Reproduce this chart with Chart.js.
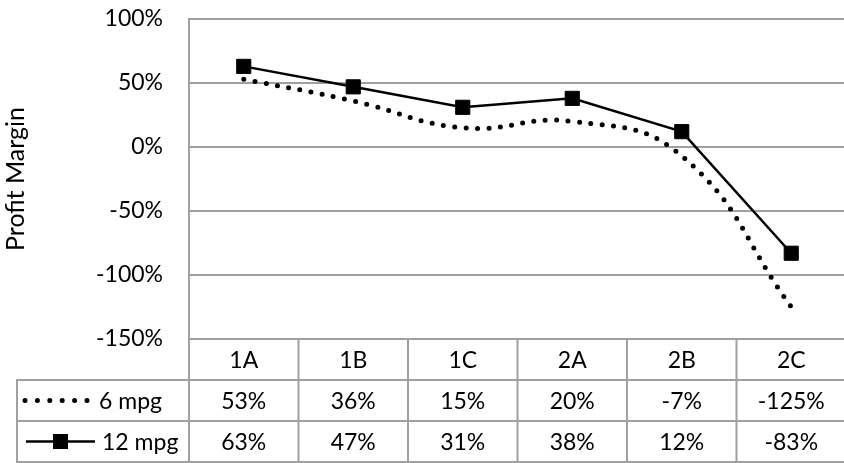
<!DOCTYPE html>
<html>
<head>
<meta charset="utf-8">
<script src="https://cdn.jsdelivr.net/npm/chart.js@4/dist/chart.umd.min.js"></script>
<style>
  html, body { margin: 0; padding: 0; overflow: hidden; background: #fff; }
  canvas { display: block; }
</style>
</head>
<body>
<canvas id="c" width="857" height="463"></canvas>
<script>
// Profit margin by configuration, at two fuel-economy levels
const categories = ['1A', '1B', '1C', '2A', '2B', '2C'];
const mpg6 = [53, 36, 15, 20, -7, -125];
const mpg12 = [63, 47, 31, 38, 12, -83];
const seriesNames = ['6 mpg', '12 mpg'];
const yTicks = [100, 50, 0, -50, -100, -150];
const yTitle = 'Profit Margin';

const FONT = 'Lato, "Open Sans", sans-serif';
const FSIZE = 23;
const TITLE_SIZE = 25;
const GRID = '#a0a0a0';
const INK = '#000';

const DOT_DASH = [0, 11.4];
const DOT_WIDTH = 5;

// Data table under the plot: category row plus one row per series with its legend key
const dataTable = {
  id: 'dataTable',
  afterDraw(chart) {
    const { ctx, chartArea: a, scales: { x } } = chart;
    const rowH = 41;
    const half = (a.right - a.left) / categories.length / 2;
    const r0 = a.bottom, r1 = r0 + rowH, r2 = r1 + rowH, r3 = r2 + rowH;
    const keyLeft = 17;

    ctx.save();
    ctx.strokeStyle = GRID;
    ctx.lineWidth = 2;
    ctx.beginPath();
    ctx.moveTo(a.left, r0); ctx.lineTo(a.left, r3);
    categories.forEach((c, i) => {
      const xr = x.getPixelForValue(i) + half;
      ctx.moveTo(xr, r0); ctx.lineTo(xr, r3);
    });
    [r1, r2, r3].forEach(y => { ctx.moveTo(keyLeft, y); ctx.lineTo(a.right + 2, y); });
    ctx.moveTo(keyLeft, r1 - 1); ctx.lineTo(keyLeft, r3 + 1);
    ctx.stroke();

    ctx.fillStyle = INK;
    ctx.font = FSIZE + 'px ' + FONT;
    ctx.textAlign = 'center';
    ctx.textBaseline = 'middle';
    const rows = [
      { y: (r0 + r1) / 2, vals: categories },
      { y: (r1 + r2) / 2, vals: mpg6.map(v => v + '%') },
      { y: (r2 + r3) / 2, vals: mpg12.map(v => v + '%') }
    ];
    rows.forEach(r => {
      r.vals.forEach((t, i) => ctx.fillText(t, x.getPixelForValue(i), r.y + 1.5));
    });

    // legend keys
    const y6 = rows[1].y, y12 = rows[2].y;
    ctx.strokeStyle = INK;
    ctx.lineWidth = DOT_WIDTH;
    ctx.lineCap = 'round';
    ctx.setLineDash([0, 12.4]);
    ctx.beginPath(); ctx.moveTo(25, y6); ctx.lineTo(88, y6); ctx.stroke();
    ctx.setLineDash([]);
    ctx.lineCap = 'butt';
    ctx.lineWidth = 2.5;
    ctx.beginPath(); ctx.moveTo(26, y12); ctx.lineTo(95, y12); ctx.stroke();
    ctx.fillRect(53, y12 - 7.5, 15, 15);

    ctx.textAlign = 'left';
    ctx.fillText(seriesNames[0], 99, y6 + 1.5);
    ctx.fillText(seriesNames[1], 102, y12 + 1.5);
    ctx.restore();
  }
};

new Chart(document.getElementById('c'), {
  type: 'line',
  data: {
    labels: categories,
    datasets: [
      {
        label: seriesNames[0],
        data: mpg6,
        borderColor: INK,
        borderWidth: DOT_WIDTH,
        borderDash: DOT_DASH,
        borderCapStyle: 'round',
        tension: 0.45,
        pointRadius: 0,
        fill: false
      },
      {
        label: seriesNames[1],
        data: mpg12,
        borderColor: INK,
        borderWidth: 2.5,
        tension: 0,
        pointStyle: 'rect',
        pointRadius: 10,
        pointBackgroundColor: INK,
        pointBorderColor: INK,
        pointBorderWidth: 1,
        fill: false
      }
    ]
  },
  options: {
    responsive: false,
    animation: false,
    devicePixelRatio: 1,
    layout: { padding: { left: 0, top: 19, right: 3, bottom: 124 } },
    plugins: { legend: { display: false }, tooltip: { enabled: false } },
    scales: {
      x: { display: false, offset: true },
      y: {
        min: -150,
        max: 100,
        afterBuildTicks: s => { s.ticks = yTicks.map(v => ({ value: v })); },
        afterFit: s => { s.width = 189; s.paddingTop = 0; s.paddingBottom = 0; },
        ticks: {
          padding: 26,
          color: INK,
          font: { family: FONT, size: FSIZE },
          callback: v => v + '%'
        },
        grid: { color: GRID, lineWidth: 2, drawTicks: false },
        border: { display: true, color: GRID, width: 2 },
        title: {
          display: true,
          text: yTitle,
          color: INK,
          font: { family: FONT, size: TITLE_SIZE },
          padding: { top: 1, bottom: 0 }
        }
      }
    }
  },
  plugins: [dataTable]
});
</script>
</body>
</html>
